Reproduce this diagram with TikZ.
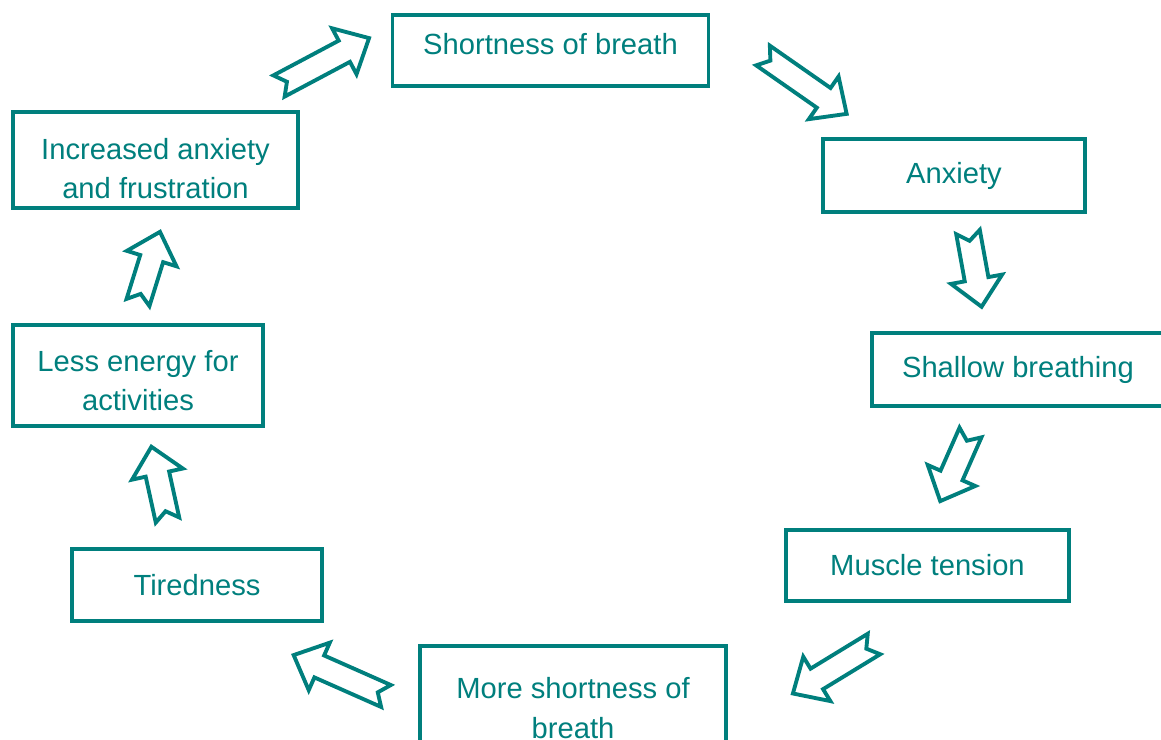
\documentclass[tikz,border=0pt]{standalone}
\usepackage{fontspec}
\setmainfont{Liberation Sans}
\usetikzlibrary{positioning}
\definecolor{cteal}{HTML}{007F7D}
\tikzset{
  every picture/.style={font=\fontsize{16.6}{22.6}\selectfont, line width=2.2pt},
  cyclebox/.style={draw=cteal, text=cteal, align=center, inner sep=0pt},
  boxlabel/.style={text=cteal, align=center, inner sep=0pt},
  arrowline/.style={draw=cteal, line join=miter},
  blockarrow/.pic={
    \draw[arrowline] (0,12) -- ({#1-28},12) -- ({#1-28},26) -- (#1,0)
      -- ({#1-28},-26) -- ({#1-28},-12) -- (0,-12) -- (9,0) -- cycle;
  },
}

\begin{document}
\begin{tikzpicture}[x=0.02cm, y=-0.02cm]
  \useasboundingbox (0,0) rectangle (1161,740);
  % the boxes of the cycle
  \node[cyclebox, minimum width=316*0.02cm, minimum height=71*0.02cm,
    label={[boxlabel, yshift=0.12cm]center:Shortness of breath}] (breath) at (550.5,50.5) {};
  \node[cyclebox, minimum width=262*0.02cm, minimum height=73*0.02cm] (anxiety) at (954,175.5) {Anxiety};
  \node[cyclebox, minimum width=292*0.02cm, minimum height=73*0.02cm] (shallow) at (1018,369.5) {Shallow breathing};
  \node[cyclebox, minimum width=283*0.02cm, minimum height=71*0.02cm] (tension) at (927.5,565.5) {Muscle tension};
  \node[cyclebox, minimum width=306*0.02cm, minimum height=124*0.02cm] (morebreath) at (573,708) {More shortness of\\breath};
  \node[cyclebox, minimum width=250*0.02cm, minimum height=72*0.02cm] (tired) at (197,585) {Tiredness};
  \node[cyclebox, minimum width=250*0.02cm, minimum height=101*0.02cm,
    label={[boxlabel, yshift=-0.1cm]center:{Less energy for\\activities}}] (energy) at (138,375.5) {};
  \node[cyclebox, minimum width=285*0.02cm, minimum height=96*0.02cm,
    label={[boxlabel, yshift=-0.17cm]center:{Increased anxiety\\and frustration}}] (frustration) at (155.5,160) {};
  % hollow arrows between them
  \pic[rotate=28] at (279,86) {blockarrow=102};
  \pic[rotate=-34.9] at (763,55.5) {blockarrow=102};
  \pic[rotate=-79.7] at (968,232) {blockarrow=76};
  \pic[rotate=-113.8] at (970.5,432.5) {blockarrow=75};
  \pic[rotate=211.4] at (874,644) {blockarrow=95};
  \pic[rotate=156.1] at (386,696) {blockarrow=101};
  \pic[rotate=102.4] at (167.5,520) {blockarrow=75};
  \pic[rotate=72.7] at (138,302.5) {blockarrow=74};
\end{tikzpicture}
\end{document}
